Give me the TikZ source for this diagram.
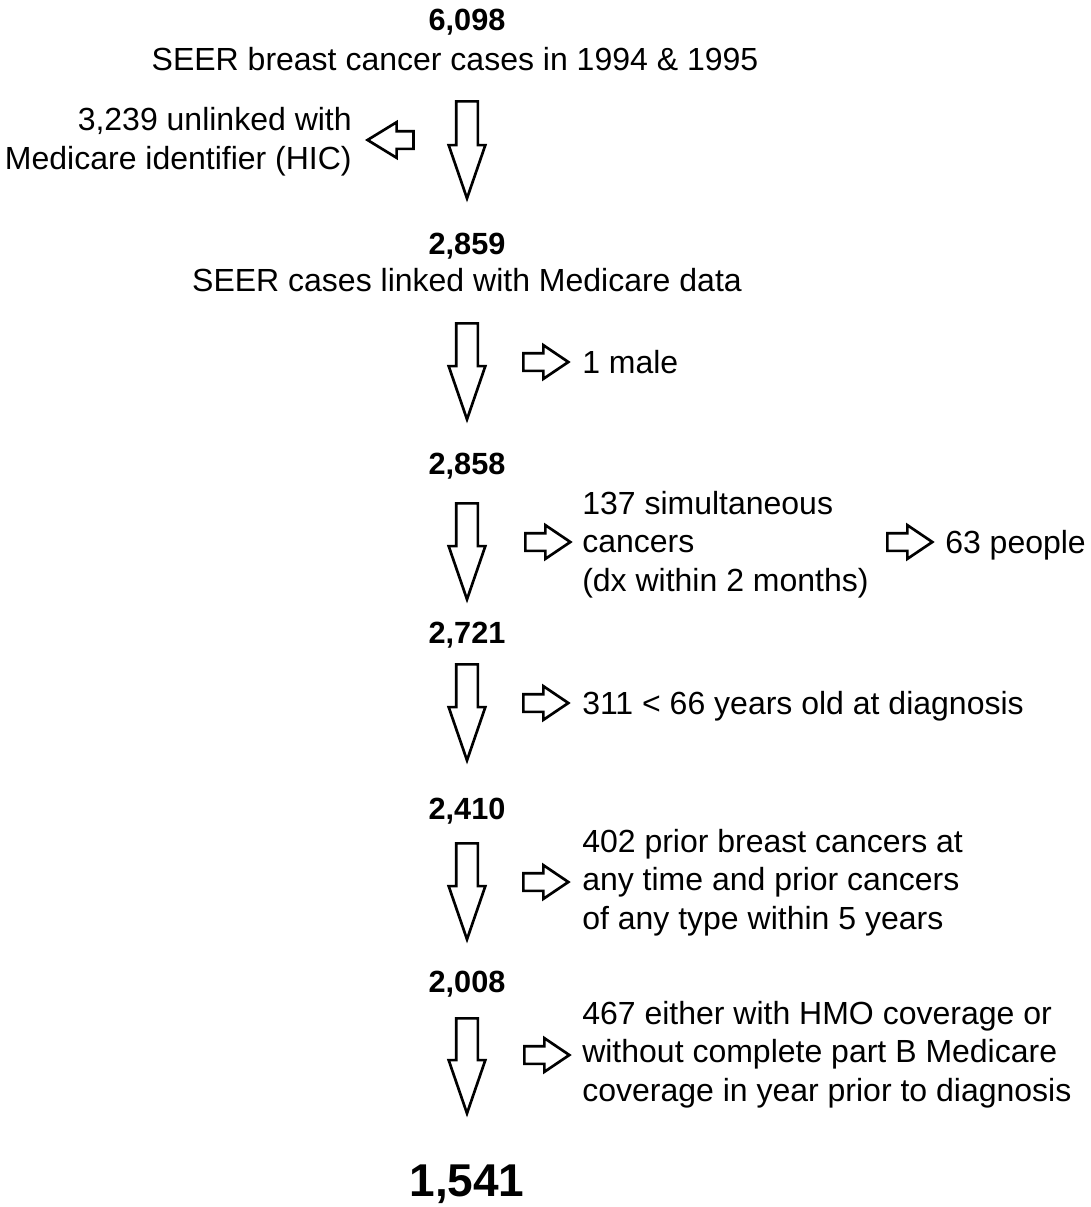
\documentclass[tikz,border=0pt]{standalone}
\usepackage{fontspec}
\setmainfont{Liberation Sans}
\usetikzlibrary{shapes.arrows}
\begin{document}
\begin{tikzpicture}[x=0.75pt,y=-0.75pt,
 txt/.style={font=\fontsize{24}{28.8}\selectfont, inner sep=0pt, align=left},
 num/.style={font=\fontsize{23}{27}\selectfont\bfseries, inner sep=0pt},
 blk/.style={single arrow, draw=black, fill=white, line width=2pt, text height=0pt, text depth=0pt, inner xsep=0pt},
 dn/.style={blk, inner ysep=7.125pt, minimum width=25.5pt, single arrow head extend=5.625pt, single arrow tip angle=38, rotate=-90, anchor=tail, minimum height=72pt},
 rt/.style={blk, inner ysep=5.625pt, minimum width=23.25pt, single arrow head extend=6pt, minimum height=33.75pt, single arrow tip angle=68, anchor=tail},
 lt/.style={blk, inner ysep=5.625pt, minimum width=24.75pt, single arrow head extend=6.75pt, minimum height=34.5pt, single arrow tip angle=63, rotate=180, anchor=tip},
]
\useasboundingbox (0,0) rectangle (1091,1207);
\fill[white] (0,0) rectangle (1091,1207);

% stage 0
\node[num, anchor=base] (n1) at (467,30) {6,098};
\node[txt, anchor=base] (t1) at (455,70) {SEER breast cancer cases in 1994 \& 1995};
\node[dn, minimum height=72.75pt] (d1) at (467,100) {};
\node[lt] (a1) at (365,140) {};
\node[txt, anchor=base east, align=right] (x1) at (352,169) {3,239 unlinked with\\Medicare identifier (HIC)};

% stage 1
\node[num, anchor=base] (n2) at (467,254) {2,859};
\node[txt, anchor=base] (t2) at (467,291) {SEER cases linked with Medicare data};
\node[dn] (d2) at (467,322) {};
\node[rt] (a2) at (522,362) {};
\node[txt, anchor=base west] (x2) at (582,373) {1 male};

% stage 2
\node[num, anchor=base] (n3) at (467,474) {2,858};
\node[dn] (d3) at (467,502) {};
\node[rt] (a3) at (524,542) {};
\node[txt, anchor=base west] (x3) at (582,591) {137 simultaneous\\cancers\\(dx within 2 months)};
\node[rt] (a3b) at (886,542) {};
\node[txt, anchor=base west] (x3b) at (945,553) {63 people};

% stage 3
\node[num, anchor=base] (n4) at (467,643) {2,721};
\node[dn] (d4) at (467,663) {};
\node[rt] (a4) at (522,703) {};
\node[txt, anchor=base west] (x4) at (582,714) {311 < 66 years old at diagnosis};

% stage 4
\node[num, anchor=base] (n5) at (467,819) {2,410};
\node[dn] (d5) at (467,842) {};
\node[rt] (a5) at (522,882) {};
\node[txt, anchor=base west] (x5) at (582,929) {402 prior breast cancers at\\any time and prior cancers\\of any type within 5 years};

% stage 5
\node[num, anchor=base] (n6) at (467,992) {2,008};
\node[dn, minimum height=71.25pt] (d6) at (467,1017) {};
\node[rt] (a6) at (523,1055) {};
\node[txt, anchor=base west] (x6) at (582,1101) {467 either with HMO coverage or\\without complete part B Medicare\\coverage in year prior to diagnosis};

% result
\node[font=\fontsize{34.5}{40}\selectfont\bfseries, inner sep=0pt, anchor=base] (n7) at (467,1196) {1,541};
\end{tikzpicture}
\end{document}
